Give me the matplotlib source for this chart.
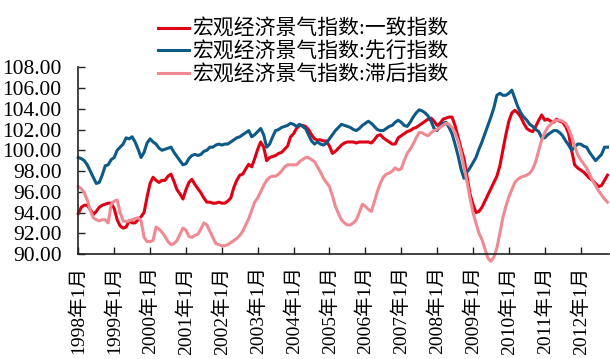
import numpy as np
import matplotlib
matplotlib.use("Agg")
import matplotlib.pyplot as plt

plt.rcParams['font.family'] = ['Liberation Serif', 'Noto Sans CJK SC', 'DejaVu Sans']

# Monthly macro climate indices, 1998-01 .. 2012-10
coincident = [
    93.9, 94.5, 94.7, 94.7, 94.3, 93.8, 94.1, 94.5, 94.7, 94.8, 94.9, 94.9,
    94.4, 93.3, 92.7, 92.5, 92.6, 93.2, 93.0, 93.0, 93.3, 93.6, 94.0, 95.5,
    96.8, 97.4, 97.1, 96.9, 97.1, 97.1, 97.5, 97.7, 97.0, 96.2, 95.8, 95.3,
    96.2, 96.9, 97.2, 96.7, 96.3, 95.9, 95.4, 95.0, 95.0, 94.9, 94.9, 95.0,
    94.9, 94.9, 95.1, 95.4, 96.4, 97.1, 97.6, 97.7, 98.2, 98.65, 98.4, 99.2,
    100.1, 100.8, 100.3, 99.0, 99.3, 99.4, 99.5, 99.7, 99.8, 100.1, 100.4, 101.3,
    101.6, 102.1, 102.4, 102.4, 102.3, 102.0, 101.5, 101.1, 101.0, 101.0, 100.9, 100.9,
    100.4, 99.7, 99.9, 100.2, 100.5, 100.7, 100.8, 100.8, 100.8, 100.7, 100.8, 100.8,
    100.8, 100.8, 100.7, 101.0, 101.4, 101.5, 101.2, 101.0, 100.8, 100.6, 100.6, 101.2,
    101.4, 101.6, 101.8, 101.9, 102.1, 102.2, 102.4, 102.6, 102.8, 103.0, 103.1, 102.8,
    102.4, 102.6, 103.0, 103.1, 103.2, 103.2, 102.4, 101.3, 100.2, 99.2, 97.5, 95.8,
    94.8, 94.0, 94.1, 94.5, 95.1, 95.7, 96.3, 96.9, 97.5, 98.5, 100.0, 101.5,
    102.8, 103.6, 103.85, 103.6, 103.2, 102.6, 102.1, 101.9, 101.8, 102.3, 102.9, 103.4,
    102.9, 103.0, 102.8, 102.7, 103.0, 102.8, 102.7, 102.3, 101.6, 100.0, 98.6, 98.3,
    98.1, 97.9, 97.6, 97.3, 97.1, 96.8, 96.5, 96.6, 97.1, 97.6,
]
leading = [
    99.3, 99.2, 99.0, 98.6, 98.0, 97.4, 96.8, 96.9, 97.6, 98.5, 98.6, 99.1,
    99.3, 100.0, 100.3, 100.6, 101.2, 101.1, 101.3, 100.8, 100.1, 99.3, 99.8, 100.7,
    101.1, 100.8, 100.6, 100.2, 100.0, 100.1, 100.2, 100.3, 99.8, 99.4, 99.0, 98.6,
    98.7, 99.2, 99.5, 99.6, 99.5, 99.6, 99.9, 100.0, 100.3, 100.3, 100.5, 100.6,
    100.5, 100.6, 100.6, 100.8, 101.0, 101.2, 101.3, 101.5, 101.7, 101.9, 101.3, 101.5,
    101.8, 102.1, 101.5, 100.3, 100.6, 101.3, 101.9, 102.0, 102.2, 102.3, 102.4, 102.6,
    102.5, 102.3, 102.5, 102.3, 102.1, 101.5, 100.9, 100.6, 100.8, 100.6, 100.5, 100.7,
    101.1, 101.5, 101.9, 102.2, 102.5, 102.4, 102.3, 102.2, 102.0, 101.9, 102.1, 102.4,
    102.6, 102.8, 102.6, 102.3, 102.0, 101.9, 101.9, 102.1, 102.3, 102.4, 102.7, 102.9,
    102.7, 102.4, 102.3, 102.7, 103.2, 103.6, 103.9, 103.8, 103.6, 103.3, 102.8, 102.1,
    101.9, 102.3, 102.6, 102.7, 102.2, 101.6, 100.6, 99.5, 98.2, 97.3, 97.9, 98.3,
    98.8, 99.3, 100.1, 100.8, 101.6, 102.4, 103.2, 104.1, 105.3, 105.5, 105.3, 105.3,
    105.5, 105.8, 105.0, 104.2, 103.6, 103.2, 102.9, 102.5, 102.3, 102.0, 101.8, 101.2,
    101.2, 101.5, 101.7, 101.9, 101.9, 101.7, 101.4, 100.9, 100.5, 100.0, 100.3, 100.6,
    100.6, 100.4, 100.3, 99.8, 99.4, 99.0, 99.3, 99.6, 100.3, 100.3,
]
lagging = [
    96.5, 96.3, 95.9, 95.2, 94.2, 93.5, 93.3, 93.2, 93.3, 93.3, 93.0, 94.8,
    95.1, 95.2, 94.0, 93.2, 93.1, 93.2, 93.3, 93.4, 93.5, 93.2, 91.6, 91.2,
    91.2, 91.3, 92.6, 92.4, 92.1, 91.7, 91.2, 90.9, 91.0, 91.3, 91.9, 92.5,
    92.3, 91.7, 91.6, 91.8, 91.9, 92.4, 93.0, 92.8, 92.2, 91.6, 91.0, 90.9,
    90.8, 90.8, 90.9, 91.1, 91.3, 91.5, 91.8, 92.2, 92.8, 93.4, 94.2, 95.0,
    95.4, 96.0, 96.6, 97.1, 97.4, 97.5, 97.5, 97.7, 98.0, 98.4, 98.6, 98.6,
    98.6, 98.6, 98.9, 99.1, 99.3, 99.3, 99.1, 98.9, 98.4, 97.9, 97.3, 96.9,
    96.5, 95.6, 94.6, 93.9, 93.3, 93.0, 92.8, 92.8, 93.0, 93.3, 94.0, 94.8,
    94.6, 94.3, 94.1, 95.0, 96.0, 96.8, 97.4, 97.7, 97.8, 98.0, 98.3, 98.1,
    98.2, 99.0, 99.7, 100.1, 100.6, 101.2, 101.7, 101.7, 101.5, 101.4, 101.7, 101.9,
    102.0, 102.2, 102.4, 102.6, 102.5, 102.2, 101.7, 100.9, 99.8, 98.4, 97.0, 95.4,
    94.0, 93.0, 92.0, 91.4, 90.5, 89.6, 89.3, 89.7, 90.6, 92.0, 93.5, 94.6,
    95.5, 96.2, 96.9, 97.2, 97.4, 97.5, 97.6, 97.8, 98.2, 98.9, 100.0, 101.0,
    101.7, 102.2, 102.5, 102.8, 102.9, 102.9, 102.8, 102.6, 102.1, 101.3, 100.4, 99.6,
    99.1, 98.7, 98.3, 97.7, 97.1, 96.6, 96.1, 95.7, 95.3, 95.0,
]
series_labels = ['宏观经济景气指数:一致指数', '宏观经济景气指数:先行指数', '宏观经济景气指数:滞后指数']
tick_labels = ['1998年1月', '1999年1月', '2000年1月', '2001年1月', '2002年1月',
               '2003年1月', '2004年1月', '2005年1月', '2006年1月', '2007年1月',
               '2008年1月', '2009年1月', '2010年1月', '2011年1月', '2012年1月']
y_ticks = [90, 92, 94, 96, 98, 100, 102, 104, 106, 108]

colors = ['#E00016', '#0D5A86', '#F08A92']

fig = plt.figure(figsize=(6.10, 3.59), dpi=100)
ax = fig.add_axes([78.3 / 610, 1 - 254 / 359, (609 - 78.3) / 610, (254 - 67.3) / 359])

x = np.arange(len(coincident))
lines = []
for vals, c, lab in zip([coincident, leading, lagging], colors, series_labels):
    ln, = ax.plot(x, vals, color=c, lw=2.2, label=lab, clip_on=False,
                  solid_joinstyle='round')
    lines.append(ln)

ax.set_xlim(0, 177.5)
ax.set_ylim(90, 108)
ax.set_yticks(y_ticks)
ax.set_yticklabels([f'{v:.2f}' for v in y_ticks], fontsize=15.5)
ax.set_xticks(np.arange(len(tick_labels)) * 12)
ax.set_xticklabels(tick_labels, rotation=90, fontsize=14)
ax.tick_params(axis='both', direction='in', length=5, width=1, colors='#222222',
               labelcolor='black')
ax.tick_params(axis='y', pad=12)
ax.tick_params(axis='x', pad=9)
for s in ['top', 'right']:
    ax.spines[s].set_visible(False)
for s in ['left', 'bottom']:
    ax.spines[s].set_linewidth(1.2)
    ax.spines[s].set_color('#222222')

leg = fig.legend(handles=lines, loc='upper left', bbox_to_anchor=(158 / 610, 1 - 20 / 359),
                 frameon=False, fontsize=15, handlelength=1.5, handletextpad=0.15,
                 labelspacing=0.12, borderpad=0, borderaxespad=0)

fig.savefig('out.png', dpi=100)
